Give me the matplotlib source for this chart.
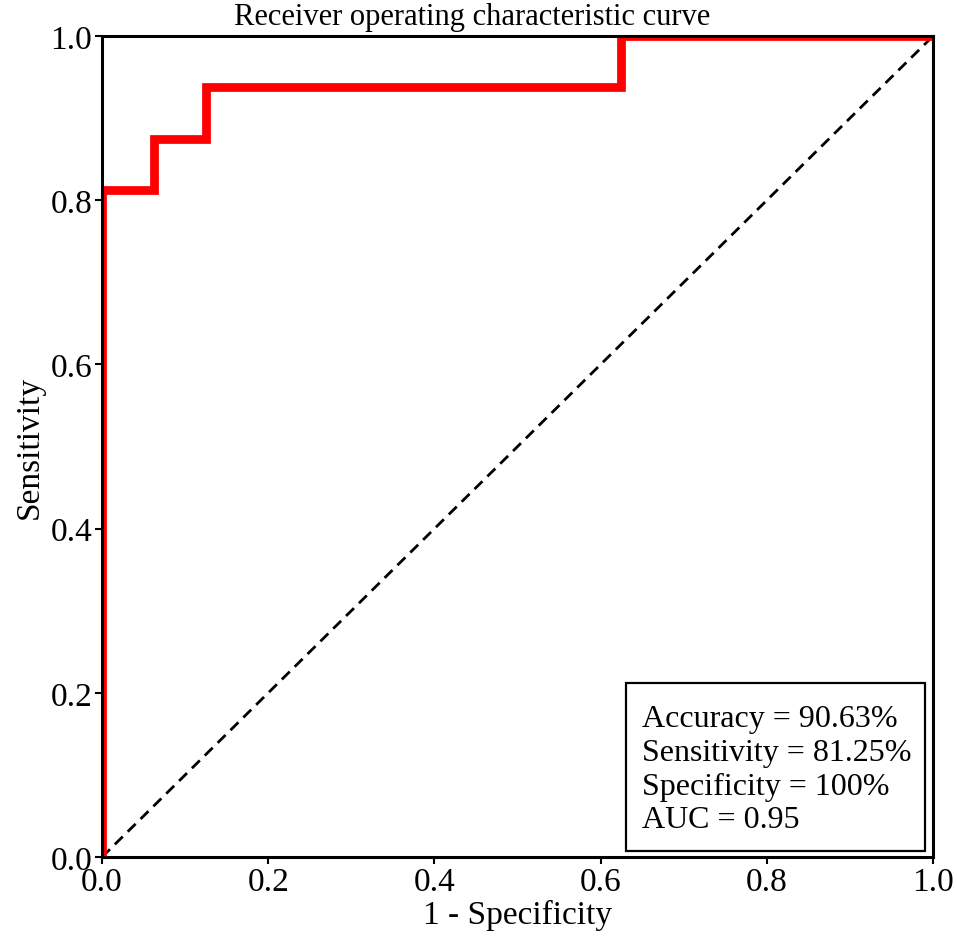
import matplotlib
matplotlib.use("Agg")
import matplotlib.pyplot as plt
from matplotlib.patches import Rectangle

fpr = [0.0, 0.0, 0.0625, 0.0625, 0.125, 0.125, 0.625, 0.625, 1.0]
tpr = [0.0, 0.8125, 0.8125, 0.875, 0.875, 0.9375, 0.9375, 1.0, 1.0]
ticks = [0.0, 0.2, 0.4, 0.6, 0.8, 1.0]
metrics_text = ["Accuracy = 90.63%", "Sensitivity = 81.25%", "Specificity = 100%", "AUC = 0.95"]

plt.rcParams['font.family'] = ['Liberation Serif', 'DejaVu Serif']

fig = plt.figure(figsize=(9.57, 9.45), dpi=100)
ax = fig.add_axes([0.1066, 0.092, 0.975 - 0.1066, 0.9608 - 0.092])
ax.plot(fpr, tpr, color='#ff0000', lw=6.3, solid_joinstyle='miter', zorder=3)
ax.plot([0, 1], [0, 1], color='black', lw=2, ls='--', dashes=(4, 2.5), zorder=2)
ax.set_xlim(0, 1)
ax.set_ylim(0, 1)
ax.set_xticks(ticks)
ax.set_yticks(ticks)
ax.set_xticklabels([f"{t:.1f}" for t in ticks])
ax.set_yticklabels([f"{t:.1f}" for t in ticks])
ax.tick_params(labelsize=24, width=1.5, length=5, pad=2)
for s in ax.spines.values():
    s.set_linewidth(2.2)
    s.set_zorder(4)
ax.set_xlabel("1 - Specificity", fontsize=24, labelpad=1)
ax.set_ylabel("Sensitivity", fontsize=24, labelpad=4)
ax.text(0.445, 1.006, "Receiver operating characteristic curve", transform=ax.transAxes,
        ha='center', va='bottom', fontsize=22)
ax.add_patch(Rectangle((0.6306, 0.0073), 0.9904 - 0.6306, 0.212 - 0.0073, transform=ax.transAxes,
                       fc='white', ec='black', lw=1.6, zorder=5))
ax.text(0.6498, 0.107, "\n".join(metrics_text), transform=ax.transAxes, ha='left', va='center',
        fontsize=23, linespacing=1.22, zorder=6)
fig.savefig("out.png", dpi=100)
